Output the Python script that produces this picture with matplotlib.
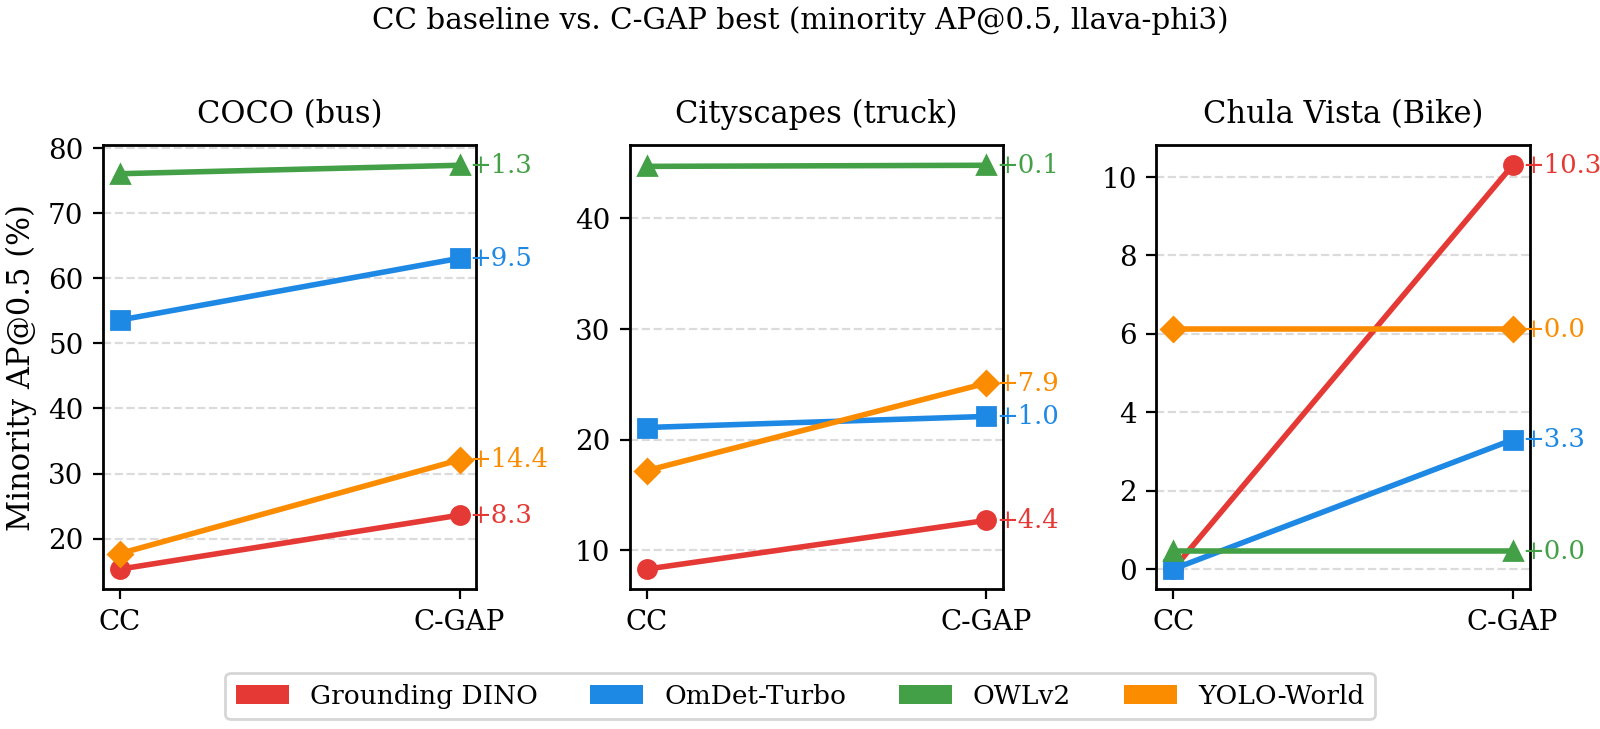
import matplotlib
matplotlib.use("Agg")
import matplotlib.pyplot as plt
from matplotlib.patches import Patch

plt.rcParams['font.family'] = ['DejaVu Serif']

panels = ["COCO (bus)", "Cityscapes (truck)", "Chula Vista (Bike)"]
conditions = ["CC", "C-GAP"]
models = ["Grounding DINO", "OmDet-Turbo", "OWLv2", "YOLO-World"]
colors = ["#e53935", "#1e88e5", "#43a047", "#fb8c00"]
markers = ["o", "s", "^", "D"]

# values per panel: [CC, C-GAP] for each model
coco_vals = {
    "Grounding DINO": [15.3, 23.6],
    "OmDet-Turbo": [53.6, 63.1],
    "OWLv2": [76.1, 77.4],
    "YOLO-World": [17.7, 32.1],
}
city_vals = {
    "Grounding DINO": [8.3, 12.7],
    "OmDet-Turbo": [21.1, 22.1],
    "OWLv2": [44.7, 44.8],
    "YOLO-World": [17.2, 25.1],
}
chula_vals = {
    "Grounding DINO": [0.0, 10.3],
    "OmDet-Turbo": [0.0, 3.3],
    "OWLv2": [0.45, 0.45],
    "YOLO-World": [6.12, 6.12],
}
all_vals = [coco_vals, city_vals, chula_vals]

fig, axes = plt.subplots(1, 3, figsize=(8, 3.645), dpi=200)
fig.subplots_adjust(left=0.0644, right=0.956, top=0.801, bottom=0.1916, wspace=0.41)

x = [0, 1]
for ax, title, vals in zip(axes, panels, all_vals):
    for m, c, mk in zip(models, colors, markers):
        v = vals[m]
        ax.plot(x, v, color=c, marker=mk, lw=2, markersize=6.5 if mk != "D" else 6, zorder=3)
        d = v[1] - v[0]
        ax.annotate(f"{d:+.1f}", xy=(1, v[1]), xytext=(3.5, 0), textcoords="offset points",
                    ha="left", va="center", color=c, fontsize=9.3, annotation_clip=False)
    ax.set_xticks(x)
    ax.set_xticklabels(conditions, fontsize=10)
    ax.tick_params(axis="y", labelsize=10)
    ax.set_title(title, fontsize=11, pad=8)
    ax.grid(axis="y", linestyle="--", color="#cccccc", alpha=0.7, lw=0.8)
    ax.set_axisbelow(True)
    for s in ax.spines.values():
        s.set_linewidth(1.0)

axes[0].set_ylabel("Minority AP@0.5 (%)", fontsize=11)
fig.suptitle("CC baseline vs. C-GAP best (minority AP@0.5, llava-phi3)", fontsize=10.6, y=0.992)

handles = [Patch(facecolor=c, label=m) for m, c in zip(models, colors)]
fig.legend(handles=handles, loc="center", ncol=4, bbox_to_anchor=(0.5, 0.045),
           fontsize=9.5, frameon=True, columnspacing=2.0)

fig.savefig("out.png", dpi=200)
